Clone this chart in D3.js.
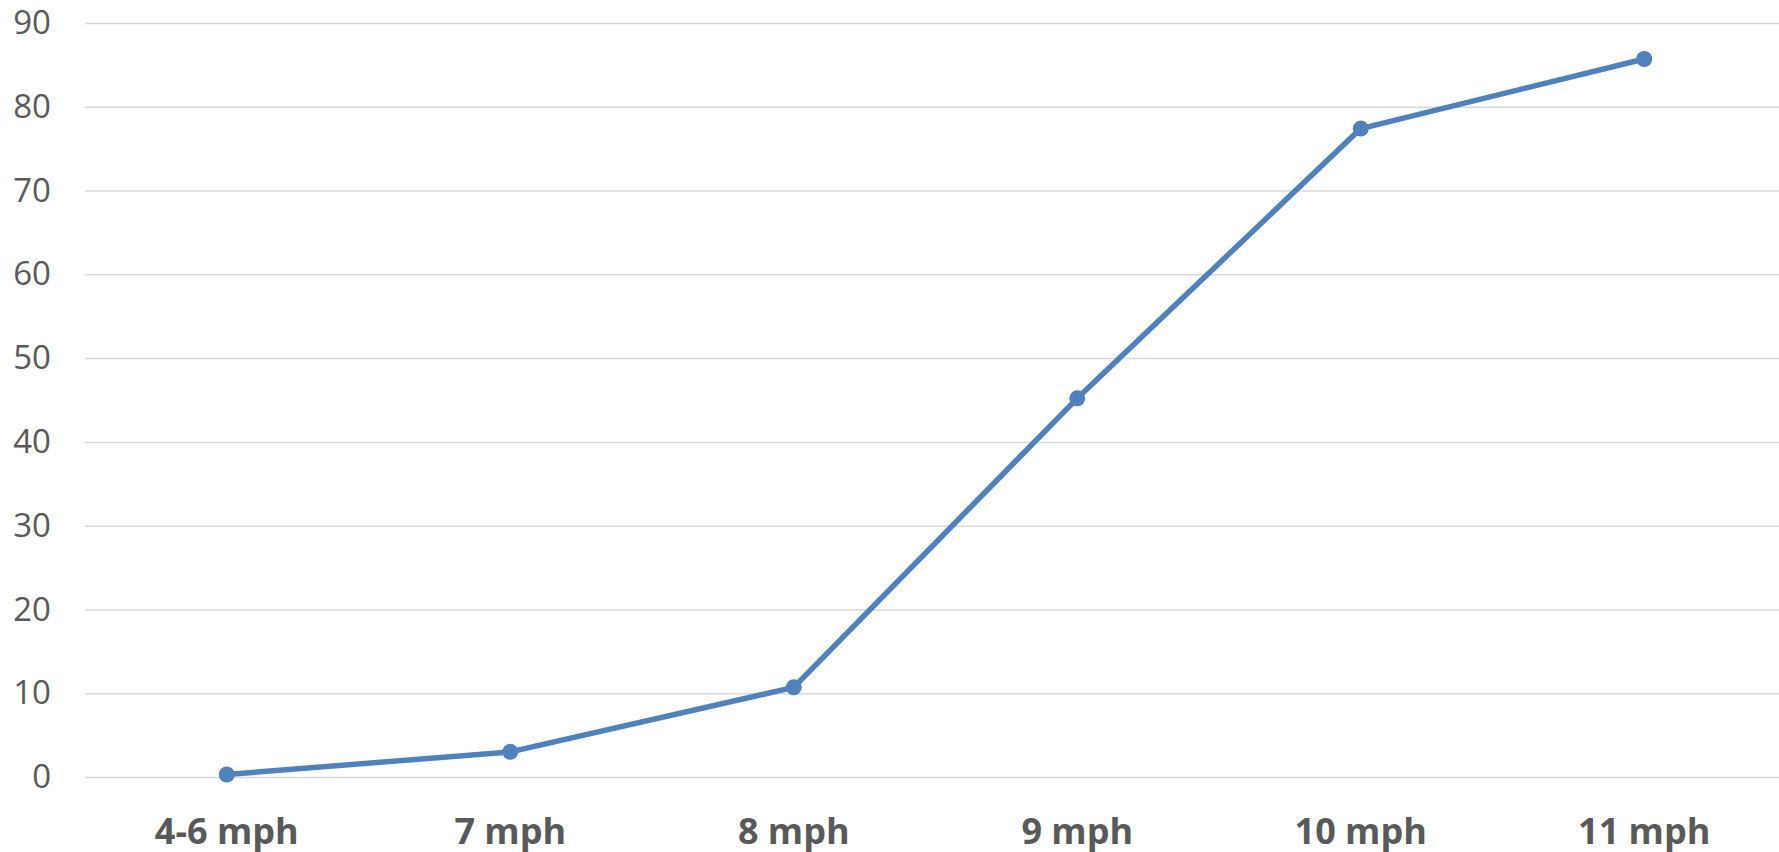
<!DOCTYPE html>
<html>
<head>
<meta charset="utf-8">
<script src="https://cdn.jsdelivr.net/npm/d3@7"></script>
<style>
  body { margin: 0; background: #fff; }
  svg { display: block; }
</style>
</head>
<body>
<div id="chart"></div>
<script>
// canvas size
const svgWidth = 1779
const svgHeight = 852
const margin = { top: 23, right: -7, bottom: 75, left: 85 }
const width = svgWidth - margin.left - margin.right
const height = svgHeight - margin.top - margin.bottom

// data
const categories = ['4-6 mph', '7 mph', '8 mph', '9 mph', '10 mph', '11 mph']
const values = [0.3, 3.0, 10.7, 45.2, 77.4, 85.7]
const yTicks = [0, 10, 20, 30, 40, 50, 60, 70, 80, 90]

const svg = d3.select('#chart').append('svg').attr('width', svgWidth).attr('height', svgHeight)
const chartGroup = svg.append('g').attr('transform', `translate(${margin.left}, ${margin.top})`)

// scales
const x = d3.scaleBand().domain(categories).range([0, width])
const y = d3.scaleLinear().domain([0, 90]).range([height, 0])

// gridlines
chartGroup.append('g')
  .call(d3.axisLeft(y).tickValues(yTicks).tickSize(-width).tickFormat(''))
  .call(g => g.select('.domain').remove())
  .call(g => g.selectAll('line').attr('stroke', '#d9d9d9').attr('stroke-width', 1.5))

// y labels
chartGroup.append('g')
  .call(d3.axisLeft(y).tickValues(yTicks).tickSize(0).tickPadding(34))
  .call(g => g.select('.domain').remove())
  .call(g => g.selectAll('text')
    .attr('fill', '#595959')
    .style('font-family', '"Open Sans", sans-serif')
    .style('font-size', '33px'))

// x labels
chartGroup.append('g')
  .attr('transform', `translate(0, ${height})`)
  .call(d3.axisBottom(x).tickSize(0).tickPadding(41))
  .call(g => g.select('.domain').remove())
  .call(g => g.selectAll('text')
    .attr('fill', '#595959')
    .style('font-family', '"Open Sans", sans-serif')
    .style('font-weight', 'bold')
    .style('font-size', '36px'))

// line
const line = d3.line()
  .x((d, i) => x(categories[i]) + x.bandwidth() / 2)
  .y(d => y(d))

chartGroup.append('path')
  .datum(values)
  .attr('d', line)
  .attr('fill', 'none')
  .attr('stroke', '#4f81bd')
  .attr('stroke-width', 5.5)
  .attr('stroke-linejoin', 'round')

// markers
chartGroup.selectAll('circle').data(values).enter().append('circle')
  .attr('cx', (d, i) => x(categories[i]) + x.bandwidth() / 2)
  .attr('cy', d => y(d))
  .attr('r', 8)
  .attr('fill', '#4f81bd')
</script>
</body>
</html>
